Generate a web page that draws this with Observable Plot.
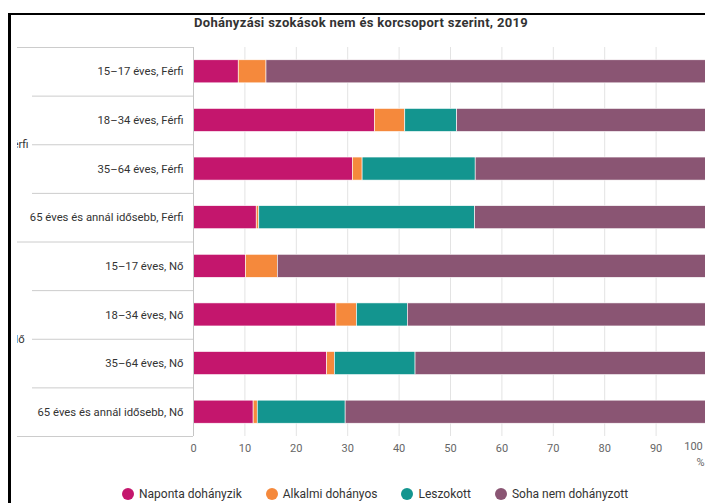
<!DOCTYPE html>
<html>
<head>
<meta charset="utf-8">
<script src="https://cdn.jsdelivr.net/npm/d3@7"></script>
<script src="https://cdn.jsdelivr.net/npm/@observablehq/plot@0.6"></script>
<style>
  html, body { margin: 0; padding: 0; background: #fff; }
  #wrap { position: relative; width: 705px; height: 503px; overflow: hidden; background: #fff; font-family: Roboto, "Noto Sans", sans-serif; }
  #frame { position: absolute; left: 8px; top: 13px; width: 720px; height: 520px; border-left: 3px solid #000; border-top: 2px solid #000; box-sizing: border-box; z-index: 10; pointer-events: none; }
  #title { position: absolute; left: 15px; width: 692px; top: 16px; text-align: center; font-size: 13px; line-height: 14px; font-weight: 700; color: #333; letter-spacing: 0.3px; }
  #clip { position: absolute; left: 17px; top: 0; width: 688px; height: 480px; overflow: hidden; }
  #chart { position: absolute; left: -17px; top: 0; }
  #legend { position: absolute; left: 122px; top: 487px; display: flex; align-items: center; font-size: 12px; color: #333; white-space: nowrap; }
  .item { display: flex; align-items: center; margin-right: 24px; }
  .dot { width: 12px; height: 12px; border-radius: 50%; margin-right: 5px; }
</style>
</head>
<body>
<div id="wrap">
  <div id="title"></div>
  <div id="clip"><div id="chart"></div></div>
  <div id="legend"></div>
  <div id="frame"></div>
</div>
<script>
const titleText = "Dohányzási szokások nem és korcsoport szerint, 2019";
const ages = ["15–17 éves", "18–34 éves", "35–64 éves", "65 éves és annál idősebb"];
const genders = ["Férfi", "Nő"];
const categories = ["Naponta dohányzik", "Alkalmi dohányos", "Leszokott", "Soha nem dohányzott"];
const colors = ["#C4166D", "#F5893C", "#13958F", "#8A5573"];
// values in row order: Férfi 15–17, 18–34, 35–64, 65+, Nő 15–17, 18–34, 35–64, 65+
const naponta   = [8.8, 35.3, 31.0, 12.3, 10.2, 27.8, 26.0, 11.7];
const alkalmi   = [5.4, 5.9, 1.9, 0.5, 6.2, 4.0, 1.5, 0.8];
const leszokott = [0, 10.1, 22.0, 42.0, 0, 9.9, 15.7, 17.1];
const soha      = [85.8, 48.7, 45.1, 45.2, 83.6, 58.3, 56.8, 70.4];
const xTicks = [0, 10, 20, 30, 40, 50, 60, 70, 80, 90, 100];
const unitLabel = "%";

const series = [naponta, alkalmi, leszokott, soha];
const rowLabels = genders.flatMap(g => ages.map(a => `${a}, ${g}`));
const nRows = rowLabels.length;

const segments = [];
for (let r = 0; r < nRows; r++) {
  let acc = 0;
  series.forEach((s, c) => {
    const v = s[r];
    if (v > 0) segments.push({row: r, cat: categories[c], x1: acc, x2: acc + v});
    acc += v;
  });
}

const groupSize = ages.length;
const groupBounds = d3.range(0, nRows + 1, groupSize);
const innerBounds = d3.range(1, nRows).filter(i => i % groupSize !== 0);
const groupCenters = genders.map((g, i) => ({g, y: i * groupSize + groupSize / 2}));

document.getElementById("title").textContent = titleText;

const chart = Plot.plot({
  width: 705,
  height: 470,
  marginTop: 47,
  marginBottom: 34,
  marginLeft: 193,
  marginRight: 0,
  x: {domain: [0, 100], range: [193, 707], label: null},
  y: {domain: [0, nRows], range: [47, 436], label: null},
  color: {domain: categories, range: colors},
  style: {fontFamily: "Roboto, sans-serif", fontSize: "11px", overflow: "visible", background: "transparent", maxWidth: "none"},
  marks: [
    Plot.gridX(xTicks, {stroke: "#e3e3e3", strokeOpacity: 1}),
    Plot.rect(segments, {
      x1: "x1", x2: "x2",
      y1: d => d.row + 0.263, y2: d => d.row + 0.737,
      fill: "cat", stroke: "#fff", strokeWidth: 0.6
    }),
    Plot.ruleX([0], {stroke: "#c6c6c6"}),
    Plot.axisY({ticks: d3.range(nRows).map(i => i + 0.5), tickFormat: d => rowLabels[Math.floor(d)], tickSize: 0, tickPadding: 10, anchor: "left", fill: "#333", fontSize: 11.3, label: null}),
    Plot.axisY({ticks: innerBounds, tickFormat: () => "", tickSize: 161, anchor: "left", stroke: "#cccccc", label: null}),
    Plot.axisY({ticks: groupBounds, tickFormat: () => "", tickSize: 180, anchor: "left", stroke: "#cccccc", label: null}),
    Plot.text(groupCenters, {y: "y", text: "g", frameAnchor: "left", dx: -176, textAnchor: "middle", fill: "#333", fontSize: 11.3}),
    Plot.axisX({ticks: xTicks.slice(0, -1), tickSize: 0, tickPadding: 8, anchor: "bottom", fill: "#666", label: null}),
    Plot.text(xTicks.slice(-1), {x: d => d, text: d => String(d), frameAnchor: "bottom", dy: 13, dx: -14, fill: "#666", fontSize: 11}),
    Plot.text([unitLabel], {x: xTicks[xTicks.length - 1], text: d => d, frameAnchor: "bottom", dy: 29, dx: -3, textAnchor: "end", fill: "#666", fontSize: 11})
  ]
});
document.getElementById("chart").appendChild(chart);

const legend = document.getElementById("legend");
categories.forEach((c, i) => {
  const item = document.createElement("div");
  item.className = "item";
  const dot = document.createElement("span");
  dot.className = "dot";
  dot.style.background = colors[i];
  const t = document.createElement("span");
  t.textContent = c;
  item.appendChild(dot);
  item.appendChild(t);
  legend.appendChild(item);
});
</script>
</body>
</html>
